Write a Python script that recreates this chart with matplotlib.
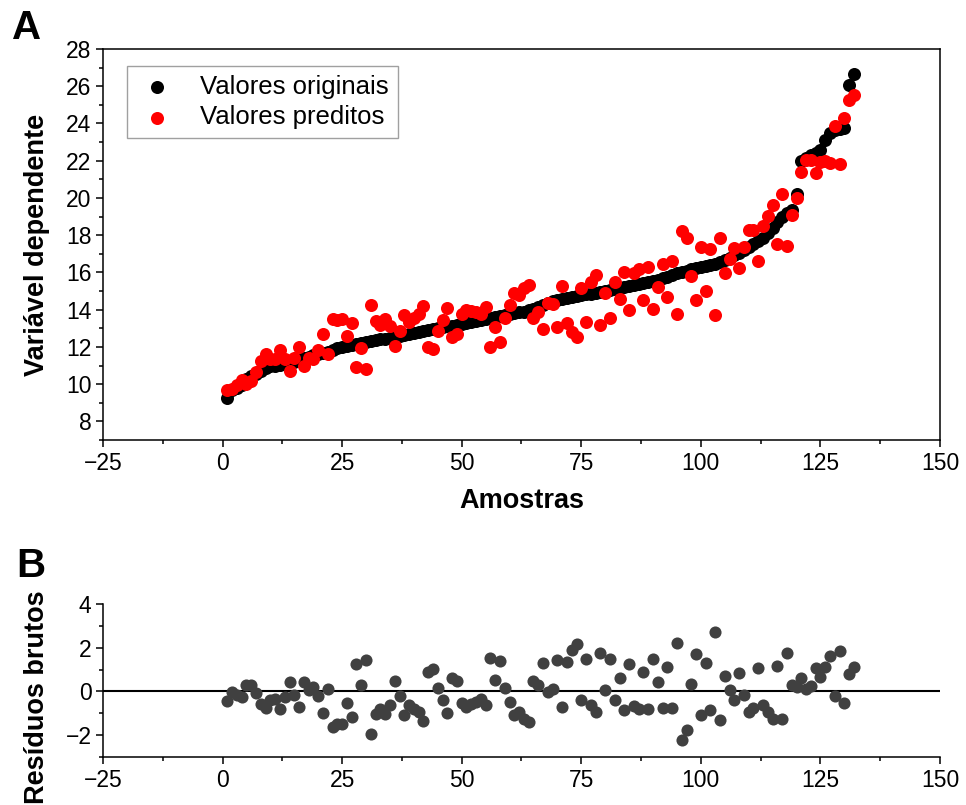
import numpy as np
import matplotlib.pyplot as plt
from matplotlib.ticker import MultipleLocator

plt.rcParams["font.family"] = ["Liberation Sans", "DejaVu Sans"]
plt.rcParams.update(
    {
        "axes.linewidth": 1.1,
        "xtick.major.width": 1.1,
        "ytick.major.width": 1.1,
        "xtick.minor.width": 1.1,
        "ytick.minor.width": 1.1,
        "xtick.major.size": 4.8,
        "ytick.major.size": 4.8,
        "xtick.minor.size": 2.8,
        "ytick.minor.size": 2.8,
        "xtick.direction": "out",
        "ytick.direction": "out",
        "xtick.labelsize": 16.5,
        "ytick.labelsize": 16.5,
    }
)

# sample index 1..132
samples = np.arange(1, 133)

# original values of the dependent variable (sorted)
original = np.array([
    9.25, 9.70, 9.80, 9.95, 10.30, 10.45, 10.55, 10.70, 10.85, 10.95,
    11.00, 11.05, 11.10, 11.15, 11.20, 11.30, 11.40, 11.45, 11.55, 11.60,
    11.70, 11.75, 11.85, 11.95, 12.00, 12.05, 12.10, 12.15, 12.20, 12.25,
    12.30, 12.35, 12.40, 12.45, 12.50, 12.55, 12.60, 12.65, 12.70, 12.75,
    12.80, 12.85, 12.90, 12.95, 13.00, 13.05, 13.10, 13.15, 13.20, 13.25,
    13.30, 13.35, 13.40, 13.45, 13.50, 13.55, 13.60, 13.65, 13.70, 13.75,
    13.82, 13.86, 13.90, 13.97, 14.05, 14.15, 14.25, 14.35, 14.45, 14.52,
    14.58, 14.63, 14.68, 14.72, 14.77, 14.82, 14.86, 14.90, 14.95, 15.00,
    15.05, 15.10, 15.15, 15.20, 15.25, 15.30, 15.36, 15.42, 15.48, 15.55,
    15.62, 15.70, 15.78, 15.86, 15.95, 16.03, 16.10, 16.16, 16.22, 16.28,
    16.33, 16.40, 16.47, 16.55, 16.65, 16.78, 16.92, 17.07, 17.22, 17.37,
    17.52, 17.68, 17.86, 18.10, 18.40, 18.70, 19.00, 19.20, 19.35, 20.20,
    22.00, 22.15, 22.30, 22.42, 22.55, 23.10, 23.50, 23.65, 23.70, 23.75,
    26.05, 26.65,
])

# raw residuals (original - predicted)
residuals = np.array([
    -0.44, -0.03, -0.15, -0.25, 0.28, 0.28, -0.08, -0.57, -0.75, -0.41,
    -0.34, -0.80, -0.26, 0.43, -0.18, -0.72, 0.43, 0.05, 0.20, -0.23,
    -1.00, 0.12, -1.64, -1.50, -1.50, -0.54, -1.18, 1.24, 0.28, 1.43,
    -1.95, -1.03, -0.80, -1.03, -0.64, 0.48, -0.23, -1.06, -0.64, -0.80,
    -0.95, -1.33, 0.89, 1.04, 0.17, -0.41, -0.98, 0.63, 0.48, -0.54,
    -0.69, -0.57, -0.49, -0.34, -0.64, 1.53, 0.54, 1.38, 0.17, -0.49,
    -1.10, -0.95, -1.26, -1.38, 0.50, 0.28, 1.30, -0.03, 0.12, 1.43,
    -0.69, 1.35, 1.89, 2.19, -0.38, 1.50, -0.64, -0.95, 1.78, 0.08,
    1.50, -0.38, 0.60, -0.84, 1.25, -0.66, -0.82, 0.88, -0.82, 1.50,
    0.42, -0.77, 1.10, -0.77, 2.20, -2.20, -1.75, 0.33, 1.72, -1.10,
    1.32, -0.86, 2.74, -1.29, 0.70, 0.06, -0.37, 0.83, -0.17, -0.93,
    -0.78, 1.09, -0.63, -0.93, -1.24, 1.16, -1.24, 1.78, 0.29, 0.21,
    0.60, 0.09, 0.25, 1.06, 0.64, 1.13, 1.62, -0.21, 1.87, -0.52,
    0.80, 1.13,
])

predicted = original - residuals

fig = plt.figure(figsize=(9.66, 8.05), dpi=100)
ax_a = fig.add_axes([0.1066, 0.4534, 0.8665, 0.4857])
ax_b = fig.add_axes([0.1066, 0.0596, 0.8665, 0.1901])

# panel A
ax_a.scatter(samples, original, s=88, color="black", linewidths=0,
             label="Valores originais", zorder=3)
ax_a.scatter(samples, predicted, s=88, color="#ff0000", linewidths=0,
             label="Valores preditos", zorder=4)
ax_a.set_xlim(-25, 150)
ax_a.set_ylim(7, 28)
ax_a.xaxis.set_major_locator(MultipleLocator(25))
ax_a.xaxis.set_minor_locator(MultipleLocator(12.5))
ax_a.yaxis.set_major_locator(MultipleLocator(2))
ax_a.yaxis.set_minor_locator(MultipleLocator(1))
ax_a.set_xlabel("Amostras", fontsize=19.5, fontweight="bold", labelpad=10)
ax_a.set_ylabel("Variável dependente", fontsize=19.5, fontweight="bold")
ax_a.yaxis.set_label_coords(-0.063, 0.5)
ax_a.legend(loc="upper left", bbox_to_anchor=(0.029, 0.957), borderaxespad=0,
            fontsize=18.5, frameon=True, fancybox=False, edgecolor="#a0a0a0",
            framealpha=1, handletextpad=0.9, borderpad=0.35, labelspacing=0.25,
            handlelength=1.6)

# panel B
ax_b.scatter(samples, residuals, s=76, color="#404040", linewidths=0, zorder=3)
ax_b.axhline(0, color="black", linewidth=1.5, zorder=2)
ax_b.set_xlim(-25, 150)
ax_b.set_ylim(-3, 4)
ax_b.xaxis.set_major_locator(MultipleLocator(25))
ax_b.xaxis.set_minor_locator(MultipleLocator(12.5))
ax_b.yaxis.set_major_locator(MultipleLocator(2))
ax_b.yaxis.set_minor_locator(MultipleLocator(1))
ax_b.spines["top"].set_visible(False)
ax_b.spines["right"].set_visible(False)
ax_b.set_ylabel("Resíduos brutos", fontsize=19.5, fontweight="bold")
ax_b.yaxis.set_label_coords(-0.063, 0.39)

fig.text(0.012, 0.952, "A", fontsize=29, fontweight="bold")
fig.text(0.017, 0.283, "B", fontsize=29, fontweight="bold")

fig.savefig("out.png", dpi=100)
